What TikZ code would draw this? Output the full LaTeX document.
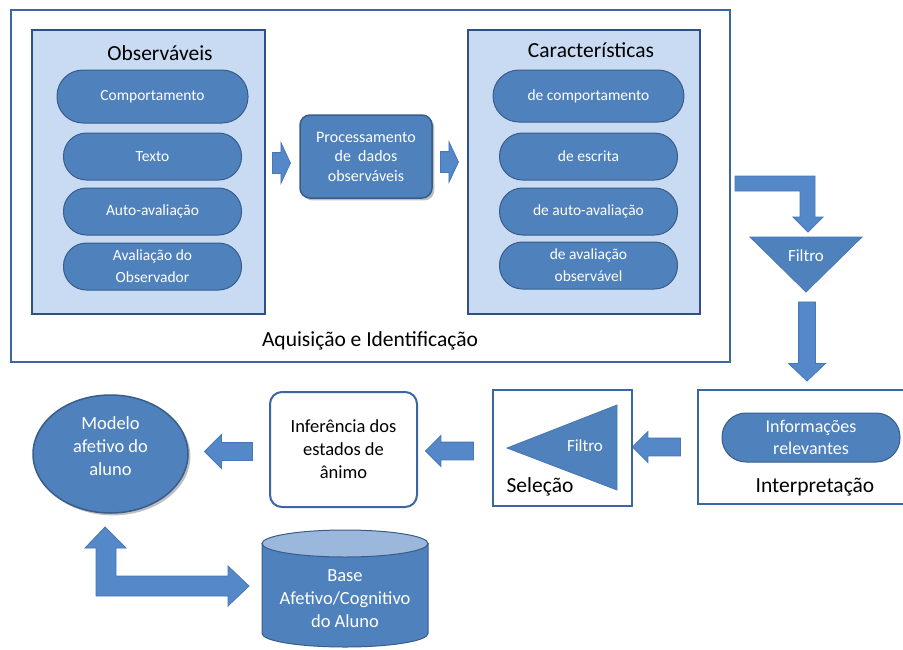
\documentclass[tikz,border=0pt]{standalone}
\usepackage{fontspec}
\setmainfont{Carlito}
\usepackage{xcolor}
\usepackage{tikz}
\usetikzlibrary{positioning}
\usetikzlibrary{shapes.geometric, shapes.arrows, shadows}

\definecolor{blueFill}{HTML}{4F81BD}
\definecolor{pillLine}{HTML}{385D8A}
\definecolor{frameBlue}{HTML}{3C66A3}
\definecolor{panelFill}{HTML}{C9DBF2}
\definecolor{panelLine}{HTML}{2E5085}
\definecolor{arrowFill}{HTML}{5588C8}
\definecolor{arrowLine}{HTML}{4677B6}
\definecolor{topBlue}{HTML}{9BB7DB}

\begin{document}
\begin{tikzpicture}[
    x=1pt, y=-1pt,
    node distance = 7pt and 12pt,% for distance between nodes
       panel/.style = {draw=panelLine, line width=1.6pt, fill=panelFill, minimum width=233pt, minimum height=284pt},
        pill/.style = {draw=pillLine, line width=1pt, fill=blueFill, text=white, minimum width=178pt, minimum height=47pt, rounded corners=23pt, align=center, font=\fontsize{15.5}{21}\selectfont},
    boxframe/.style = {draw=frameBlue, line width=2pt},
      barrow/.style = {single arrow, draw=arrowLine, fill=arrowFill, line width=0.8pt, inner xsep=0pt, single arrow head indent=0pt},
        capt/.style = {font=\fontsize{21.5}{25}\selectfont},
         txt/.style = {align=center, font=\fontsize{18.5}{23}\selectfont},
         tri/.style = {fill=blueFill, draw=arrowLine, line width=0.8pt}
    ]
    \useasboundingbox (0,0) rectangle (903,649);
    % acquisition frame
    \node (acq) [boxframe, minimum width=719pt, minimum height=352pt] at (370.5,186) {};
    \node (acqlabel) [capt] at (370,341) {Aquisição e Identificação};
    % observables
    \node (obs) [panel] at (148.5,172) {};
    \node (obstitle) [capt] at (160,53) {Observáveis};
    \node (comp) [pill, minimum width=191pt, minimum height=53pt, rounded corners=26pt] at (152.5,96.5) {Comportamento};
    \node (texto) [pill, below=9pt of comp] {Texto};
    \node (auto) [pill, below=of texto] {Auto-avaliação};
    \node (aval) [pill, below=of auto, font=\fontsize{15.5}{22}\selectfont] {Avaliação do\\Observador};
    % processing
    \node (proc) [draw=pillLine, line width=1.5pt, fill=blueFill, rounded corners=10pt, drop shadow, minimum width=132pt, minimum height=83pt, text=white, align=center, font=\fontsize{16}{19.5}\selectfont] at (366,156.5) {Processamento\\de\ \ dados\\observáveis};
    \node (a1) [barrow, inner ysep=10pt, minimum height=18pt, single arrow head extend=10pt, single arrow tip angle=130] at (279,163) {};
    \node (a2) [barrow, inner ysep=10pt, minimum height=18pt, single arrow head extend=10pt, single arrow tip angle=130] at (447,162) {};
    % features
    \node (feat) [panel, minimum width=232pt] at (584,172) {};
    \node (feattitle) [capt] at (591,50) {Características};
    \node (fcomp) [pill, minimum width=191pt, minimum height=52pt, rounded corners=26pt] at (588.5,96) {de comportamento};
    \node (fesc) [pill, below=10pt of fcomp] {de escrita};
    \node (fauto) [pill, below=of fesc] {de auto-avaliação};
    \node (faval) [pill, below=6pt of fauto, font=\fontsize{15.5}{22}\selectfont] {de avaliação\\observável};
    % filter
    \fill[arrowFill, draw=arrowLine, line width=0.8pt] (735,176) -- (815,176) -- (815,217) -- (823,217) -- (808,232) -- (793,217) -- (800,217) -- (800,191) -- (735,191) -- cycle;
    \draw[tri] (750,237) -- (862,237) -- (806,292) -- cycle;
    \node (filtro1) [text=white, font=\fontsize{17}{20}\selectfont] at (806,256) {Filtro};
    \node (a3) [barrow, shape border rotate=270, inner xsep=8pt, inner ysep=8pt, minimum height=79pt, single arrow head extend=10pt, single arrow tip angle=93] at (807,337.5) {};
    % interpretation
    \node (interp) [boxframe, anchor=north west, minimum width=230pt, minimum height=114pt] at (697,389) {};
    \node (info) [pill, minimum height=49pt, rounded corners=24pt, font=\fontsize{18}{22}\selectfont] at (811,437.5) {Informações\\relevantes};
    \node (interplabel) [capt] at (815,487) {Interpretação};
    \node (a4) [barrow, shape border rotate=180, inner ysep=8.5pt, minimum height=48pt, single arrow head extend=6.5pt, single arrow tip angle=90] at (661,447) {};
    % selection
    \node (sel) [boxframe, minimum width=139pt, minimum height=116pt] at (562.5,448) {};
    \draw[tri] (617,405) -- (617,490) -- (507,448) -- cycle;
    \node (filtro2) [text=white, font=\fontsize{17}{20}\selectfont] at (585,446) {Filtro};
    \node (sellabel) [capt] at (540,487) {Seleção};
    \node (a5) [barrow, shape border rotate=180, inner ysep=8.5pt, minimum height=48pt, single arrow head extend=6.5pt, single arrow tip angle=90] at (454,451) {};
    % inference
    \node (inf) [boxframe, rounded corners=12pt, fill=white, minimum width=147pt, minimum height=115pt, txt] at (343.5,449.5) {Inferência dos\\estados de\\ânimo};
    \node (a6) [barrow, shape border rotate=180, inner ysep=8.5pt, minimum height=48pt, single arrow head extend=8pt, single arrow tip angle=90] at (233,451.5) {};
    % student model
    \node (model) [ellipse, draw=pillLine, line width=1.5pt, fill=blueFill, drop shadow, minimum width=155pt, minimum height=118pt] at (110.5,454) {};
    \node (modeltext) [txt, text=white] at (110.5,446) {Modelo\\afetivo do\\aluno};
    % knowledge base
    \filldraw[fill=blueFill, draw=pillLine, line width=1pt] (262,543.5) -- (262,633.5) arc[start angle=180, end angle=360, x radius=83pt, y radius=13.5pt] -- (428,543.5) -- cycle;
    \filldraw[fill=topBlue, draw=pillLine, line width=1pt] (345,543.5) ellipse [x radius=83pt, y radius=13.5pt];
    \node (base) [txt, text=white] at (345,598.5) {Base\\Afetivo/Cognitivo\\do Aluno};
    \fill[arrowFill, draw=arrowLine, line width=0.8pt] (105,527) -- (126,548) -- (116,548) -- (116,576) -- (228,576) -- (228,566) -- (249,586) -- (228,606) -- (228,596) -- (96,596) -- (96,548) -- (85,548) -- cycle;
\end{tikzpicture}
\end{document}
